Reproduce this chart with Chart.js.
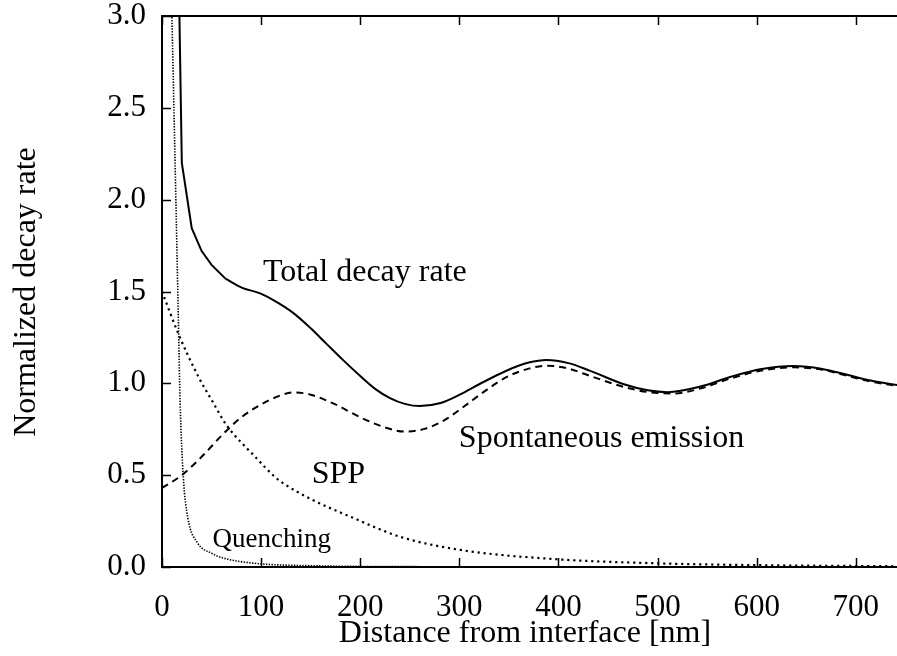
<!DOCTYPE html>
<html>
<head>
<meta charset="utf-8">
<script src="https://cdn.jsdelivr.net/npm/chart.js@4.4.1/dist/chart.umd.min.js"></script>
<style>
html,body{margin:0;padding:0;background:#fff;overflow:hidden;}
#wrap{width:897px;height:656px;position:relative;}
</style>
</head>
<body>
<div id="wrap"><canvas id="c" width="897" height="656"></canvas></div>
<script>
// ---- data ----
const xTicks = [0,100,200,300,400,500,600,700];
const yTicks = [0.0,0.5,1.0,1.5,2.0,2.5,3.0];

// total decay rate: coarse near-interface samples (straight segments) ...
const xTotalNear = [10,20,30,40,50,64];
const yTotalNear = [5.5,2.2,1.845,1.72,1.645,1.57];
// ... and the smooth remainder
const xTotal = [64,81,99,115,132,150,166,183,200,215,230,245,260,281,301,320,348,370,388,410,432,466,490,510,545,574,605,637,665,692,715,742];
const yTotal = [1.57,1.52,1.49,1.445,1.385,1.30,1.215,1.125,1.04,0.97,0.92,0.888,0.876,0.893,0.94,0.995,1.07,1.113,1.127,1.11,1.068,0.995,0.962,0.952,0.985,1.036,1.078,1.094,1.08,1.045,1.015,0.99];

const xSE = [0,20,40,60,80,100,120,133,150,175,200,225,245,265,285,305,325,348,370,388,410,432,466,490,516,545,574,605,638,665,692,715,742];
const ySE = [0.43,0.50,0.60,0.715,0.815,0.885,0.935,0.951,0.938,0.885,0.815,0.76,0.737,0.752,0.80,0.875,0.955,1.035,1.08,1.096,1.08,1.04,0.98,0.953,0.945,0.975,1.027,1.07,1.087,1.075,1.04,1.01,0.985];

const xSPP = [0,16.5,36.7,50,65,94,114,122,150,190,240,301,399,500,600,742];
const ySPP = [1.5,1.27,1.036,0.91,0.773,0.60,0.49,0.457,0.37,0.274,0.165,0.093,0.042,0.02,0.01,0.004];

const xQ = [6,10,14,16.5,18.2,21.5,26,36,50,61,94,150,250,400,742];
const yQ = [4.0,3.0,2.0,1.35,0.91,0.49,0.27,0.13,0.075,0.05,0.02,0.007,0.002,0.0005,0];

const labels = {
  total: 'Total decay rate',
  se: 'Spontaneous emission',
  spp: 'SPP',
  q: 'Quenching',
  xTitle: 'Distance from interface [nm]',
  yTitle: 'Normalized decay rate'
};

const pts = (xs, ys) => xs.map((x, i) => ({x: x, y: ys[i]}));

const FONT = "'Liberation Serif', 'Times New Roman', serif";

const framePlugin = {
  id: 'frame',
  beforeDatasetsDraw(chart) {
    const {ctx, chartArea: a, scales} = chart;
    ctx.save();
    ctx.strokeStyle = '#000';
    ctx.lineWidth = 1.5;
    const tl = 9;
    ctx.beginPath();
    xTicks.forEach(v => {
      const px = Math.round(scales.x.getPixelForValue(v)) + 0.5;
      ctx.moveTo(px, a.bottom); ctx.lineTo(px, a.bottom - tl);
      ctx.moveTo(px, a.top); ctx.lineTo(px, a.top + tl);
    });
    yTicks.forEach(v => {
      const py = Math.round(scales.y.getPixelForValue(v)) + 0.5;
      ctx.moveTo(a.left, py); ctx.lineTo(a.left + tl, py);
    });
    ctx.stroke();
    ctx.lineWidth = 2;
    ctx.beginPath();
    ctx.moveTo(a.right + 2, a.top);
    ctx.lineTo(a.left, a.top);
    ctx.lineTo(a.left, a.bottom);
    ctx.lineTo(a.right + 2, a.bottom);
    ctx.stroke();
    ctx.restore();
  },
  afterDraw(chart) {
    const {ctx, scales} = chart;
    const X = v => scales.x.getPixelForValue(v);
    const Y = v => scales.y.getPixelForValue(v);
    ctx.save();
    ctx.fillStyle = '#000';
    ctx.textBaseline = 'alphabetic';
    ctx.textAlign = 'left';
    ctx.font = '32px ' + FONT;
    ctx.fillText(labels.total, X(101.8), Y(1.557));
    ctx.fillText(labels.se, X(299.5), Y(0.655));
    ctx.fillText(labels.spp, X(151), Y(0.457));
    ctx.font = '27px ' + FONT;
    ctx.fillText(labels.q, X(51), Y(0.11));
    ctx.font = '32px ' + FONT;
    ctx.textAlign = 'center';
    ctx.textBaseline = 'middle';
    ctx.fillText(labels.xTitle, 525, 634);
    ctx.translate(27, 292);
    ctx.rotate(-Math.PI / 2);
    ctx.fillText(labels.yTitle, 0, 0);
    ctx.restore();
  }
};

const lineBase = {borderColor: '#000', pointRadius: 0, fill: false};

new Chart(document.getElementById('c'), {
  type: 'line',
  data: {
    datasets: [
      Object.assign({label: 'Total (near)', data: pts(xTotalNear, yTotalNear), borderWidth: 2, tension: 0}, lineBase),
      Object.assign({label: 'Total', data: pts(xTotal, yTotal), borderWidth: 2, cubicInterpolationMode: 'monotone'}, lineBase),
      Object.assign({label: 'Spontaneous emission', data: pts(xSE, ySE), borderWidth: 2, borderDash: [7, 5], cubicInterpolationMode: 'monotone'}, lineBase),
      Object.assign({label: 'SPP', data: pts(xSPP, ySPP), borderWidth: 2.2, borderDash: [2.2, 3.8], cubicInterpolationMode: 'monotone'}, lineBase),
      Object.assign({label: 'Quenching', data: pts(xQ, yQ), borderWidth: 1.6, borderDash: [1.4, 1.4], cubicInterpolationMode: 'monotone'}, lineBase)
    ]
  },
  options: {
    responsive: false,
    animation: false,
    events: [],
    layout: {padding: {top: 16, right: 0, left: 0, bottom: 0}},
    plugins: {legend: {display: false}, tooltip: {enabled: false}},
    scales: {
      x: {
        type: 'linear', min: 0, max: 741.5,
        afterBuildTicks: s => { s.ticks = xTicks.map(v => ({value: v})); },
        afterFit: s => { s.height = 89; s.paddingLeft = 0; s.paddingRight = 0; },
        grid: {display: false, drawTicks: false},
        border: {display: false},
        ticks: {color: '#000', font: {family: FONT, size: 31}, padding: 22, maxRotation: 0, callback: v => String(v)}
      },
      y: {
        type: 'linear', min: 0, max: 3,
        afterBuildTicks: s => { s.ticks = yTicks.map(v => ({value: v})); },
        afterFit: s => { s.width = 162; s.paddingTop = 0; s.paddingBottom = 0; },
        grid: {display: false, drawTicks: false},
        border: {display: false},
        ticks: {color: '#000', font: {family: FONT, size: 31}, padding: 16, callback: v => Number(v).toFixed(1)}
      }
    }
  },
  plugins: [framePlugin]
});
</script>
</body>
</html>
